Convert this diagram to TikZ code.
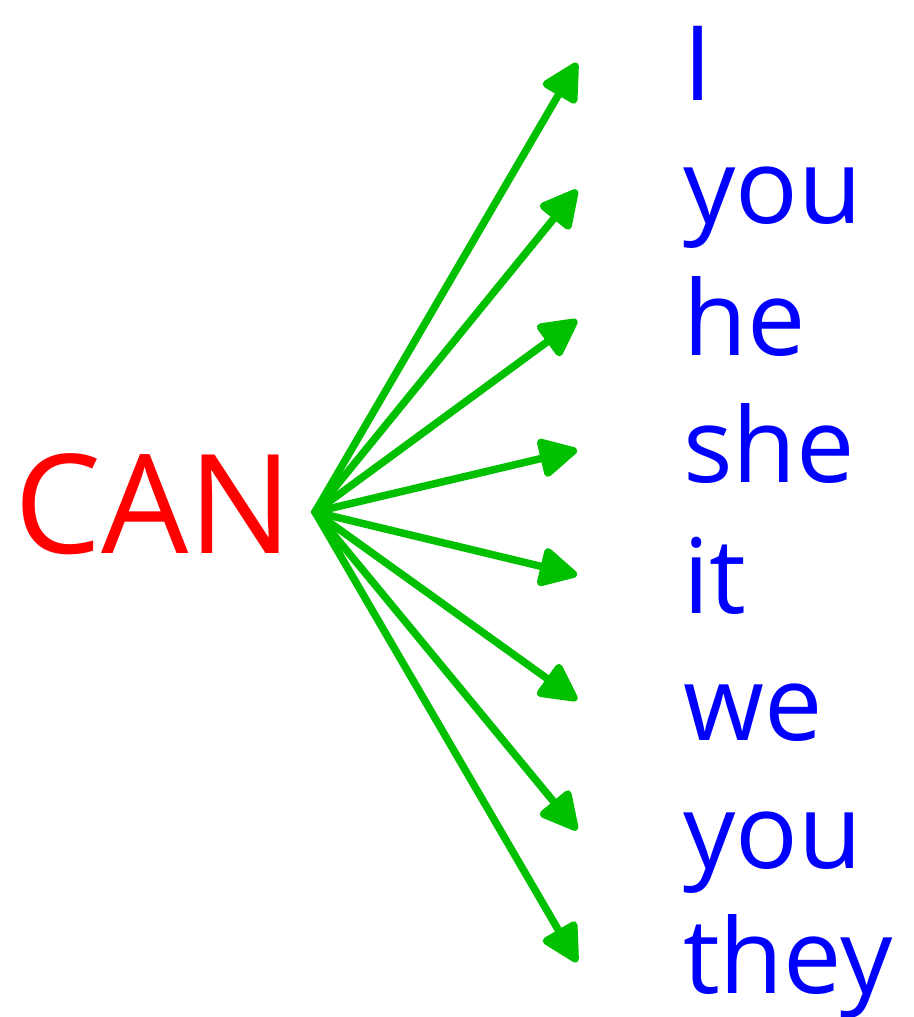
\documentclass[tikz,border=0pt]{standalone}
\usepackage{fontspec}
\setmainfont{Open Sans}
\usetikzlibrary{arrows.meta,positioning}
\definecolor{canred}{HTML}{FF0000}
\definecolor{pronblue}{HTML}{0000FF}
\definecolor{arrgreen}{HTML}{00C000}
\tikzset{
  verb/.style={inner sep=0pt, anchor=base west, text=canred, font=\fontsize{138}{138}\selectfont},
  pron/.style={inner sep=0pt, anchor=base west, text=pronblue, font=\fontsize{104}{104}\selectfont},
  arr/.style={-{Triangle[length=42pt,width=42pt,round]}, line width=7.5pt, draw=arrgreen, line cap=round},
}
\begin{document}
\begin{tikzpicture}[x=1pt, y=-1pt]
    \useasboundingbox (0,0) rectangle (913,1017);
    \node[verb] (can) at (14,553) {CAN};
    \coordinate (hub) at (315,512);
    \foreach \i/\word/\base/\tip in {
        1/I/100/63,
        2/you/223/190,
        3/he/355/320,
        4/she/482/450,
        5/it/613/575,
        6/we/740/700,
        7/you/868/830,
        8/they/993/962} {
      \node[pron] (w\i) at (683,\base) {\word};
      \coordinate (t\i) at (577,\tip);
      \draw[arr] (hub) -- (t\i);
    }
  \end{tikzpicture}
\end{document}
